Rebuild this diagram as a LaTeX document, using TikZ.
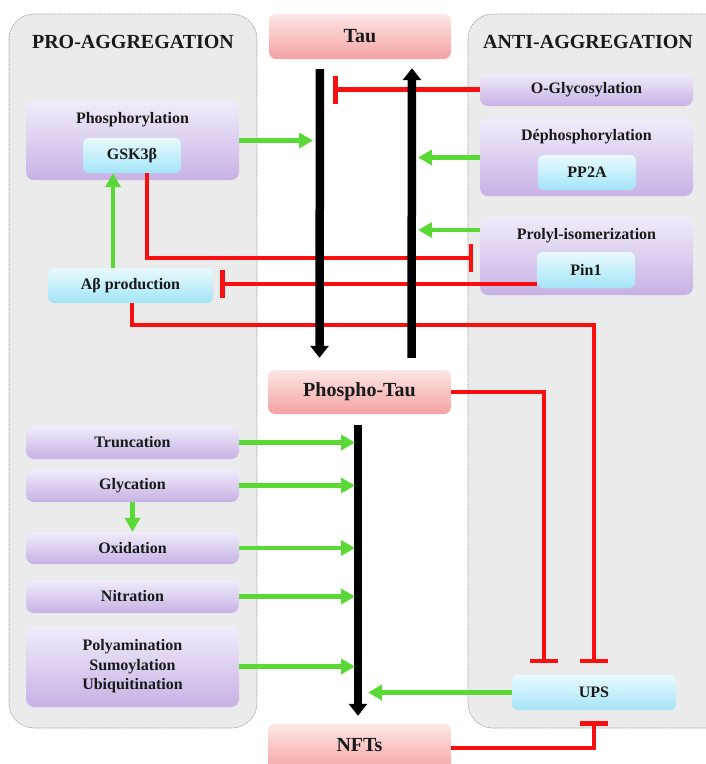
\documentclass[tikz,border=0pt]{standalone}
\usepackage{fontspec}
\setmainfont{Liberation Serif}
\usetikzlibrary{arrows.meta}
\definecolor{panelfill}{HTML}{EBEBEB}
\definecolor{panelline}{HTML}{9A9A9A}
\definecolor{purpTop}{HTML}{F2ECFA}
\definecolor{purpBot}{HTML}{C6B2E5}
\definecolor{cyanTop}{HTML}{E8FAFE}
\definecolor{cyanBot}{HTML}{A4E4F7}
\definecolor{pinkTop}{HTML}{FDE6E6}
\definecolor{pinkBot}{HTML}{F4A2A2}
\definecolor{actgreen}{HTML}{5AD936}
\definecolor{inhred}{HTML}{F81010}
\tikzset{
  panel/.style={fill=panelfill,draw=panelline,line width=0.6pt,dash pattern=on 1.5pt off 1pt,rounded corners=25pt},
  boxtext/.style={font=\fontsize{16}{19.5}\selectfont\bfseries,text=black!90,align=center},
  purplebox/.style={boxtext,top color=purpTop,bottom color=purpBot,draw=none,rounded corners=8pt,inner sep=0pt},
  cyanbox/.style={boxtext,top color=cyanTop,bottom color=cyanBot,draw=none,rounded corners=6pt,inner sep=0pt},
  pinktext/.style={font=\fontsize{20}{22}\selectfont\bfseries,text=black!90},
  pinkbox/.style={pinktext,top color=pinkTop,bottom color=pinkBot,draw=none,rounded corners=7pt,inner sep=0pt},
  paneltitle/.style={font=\fontsize{20}{22}\selectfont\bfseries,text=black!90},
  act/.style={draw=actgreen,line width=4.5pt,-{Triangle[length=14pt,width=15pt]}},
  inhib/.style={draw=inhred,line width=4.2pt,-{Bar[width=28pt,line width=4.5pt]}},
  bigarrow/.style={draw=black,line width=8.5pt,-{Triangle[length=12pt,width=18pt]}},
}
\begin{document}
\begin{tikzpicture}[x=1pt,y=-1pt]
\clip (0,0) rectangle (706,764);
\useasboundingbox (0,0) rectangle (706,764);
\fill[white] (0,0) rectangle (706,764);

% panels
\draw[panel] (9,14) rectangle (257,728);
\draw[panel] (468,14) rectangle (735,728);
\node[paneltitle] (protitle) at (133,42) {PRO-AGGREGATION};
\node[paneltitle] (antititle) at (588,42) {ANTI-AGGREGATION};

% pink state boxes
\node[pinkbox,minimum width=182pt,minimum height=45pt] (tau) at (360,36.5) {Tau};
\node[pinkbox,minimum width=183pt,minimum height=44pt] (phtau) at (359.5,392) {Phospho-Tau};
\node[pinkbox,minimum width=183pt,minimum height=48pt] (nfts) at (359.5,748) {};
\node[pinktext] (nftstext) at (359.5,745) {NFTs};

% anti-aggregation boxes
\node[purplebox,minimum width=213pt,minimum height=33pt] (ogly) at (586.5,89.5) {O-Glycosylation};
\node[purplebox,minimum width=213pt,minimum height=77pt] (deph) at (586.5,157.5) {};
\node[boxtext] (dephtitle) at (586.5,137) {Déphosphorylation};
\node[cyanbox,minimum width=98pt,minimum height=35pt] (pp2a) at (587,172.5) {PP2A};
\node[purplebox,minimum width=213pt,minimum height=79pt] (prol) at (586.5,255.5) {};
\node[boxtext] (proltitle) at (586.5,236) {Prolyl-isomerization};
\node[cyanbox,minimum width=98pt,minimum height=36pt] (pin1) at (586,270) {Pin1};
\node[cyanbox,minimum width=164pt,minimum height=35pt] (ups) at (594,692.5) {UPS};

% pro-aggregation boxes
\node[purplebox,minimum width=213pt,minimum height=79pt] (phos) at (132.5,140.5) {};
\node[boxtext] (phostitle) at (132.5,120) {Phosphorylation};
\node[cyanbox,minimum width=98pt,minimum height=35pt] (gsk) at (132,155.5) {GSK3β};
\node[cyanbox,minimum width=165pt,minimum height=35pt] (abeta) at (130.5,285.5) {Aβ production};
\node[purplebox,minimum width=213pt,minimum height=33pt] (trunc) at (132.5,442.5) {Truncation};
\node[purplebox,minimum width=213pt,minimum height=33pt] (glyc) at (132.5,485.5) {Glycation};
\node[purplebox,minimum width=213pt,minimum height=32pt] (oxid) at (132.5,548) {Oxidation};
\node[purplebox,minimum width=213pt,minimum height=33pt] (nitr) at (132.5,596.5) {Nitration};
\node[purplebox,minimum width=213pt,minimum height=81pt] (poly) at (132.5,666.5) {Polyamination\\Sumoylation\\Ubiquitination};

% target coordinates on the shafts
\coordinate (tOG) at (333,89.5);
\coordinate (tDeph) at (418,157.5);
\coordinate (tProl) at (418,230);
\coordinate (tPhos) at (313,140.5);
\coordinate (tGskProl) at (473,258);
\coordinate (tPinAb) at (220,284);
\coordinate (tAbUps) at (594,663);
\coordinate (tPtUps) at (544,663);
\coordinate (tNftUps) at (594,721);
\coordinate (tUps) at (368,692.5);

% red inhibitions (under the black shafts)
\draw[inhib] (ogly.west) -- (tOG);
\draw[inhib] ([xshift=15pt]gsk.south) |- (tGskProl);
\draw[inhib] ([yshift=-14pt]pin1.west) -- (tPinAb);
\draw[inhib] ([xshift=1.5pt]abeta.south) -- ++(0,22) -| (tAbUps);
\draw[inhib] (phtau.east) -| (tPtUps);
\draw[inhib] (nfts.east |- 0,748) -| (tNftUps);

% black main arrows
\draw[bigarrow, shorten <=10pt, shorten >=0pt] ([xshift=-40pt]tau.south) -- ([xshift=-40pt,yshift=12pt]phtau.north);
\draw[bigarrow, shorten <=12pt, shorten >=9pt] ([xshift=52pt]phtau.north) -- ([xshift=52pt]tau.south);
\draw[bigarrow, shorten <=11pt, shorten >=0pt] ([xshift=-1.5pt]phtau.south) -- ([xshift=-1.5pt,yshift=8pt]nfts.north);

% green activations
\draw[act] (deph.west |- tDeph) -- (tDeph);
\draw[act] (prol.west |- tProl) -- (tProl);
\draw[act] (phos.east) -- (tPhos);
\draw[act] ([xshift=-17.5pt]abeta.north) -- ([xshift=-17.5pt]abeta.north |- gsk.south);
\draw[act] (trunc.east) -- (trunc.east -| 355,0);
\draw[act] (glyc.east) -- (glyc.east -| 355,0);
\draw[act] (oxid.east) -- (oxid.east -| 355,0);
\draw[act] (nitr.east) -- (nitr.east -| 355,0);
\draw[act] (poly.east) -- (poly.east -| 355,0);
\draw[act] (glyc.south) -- (oxid.north);
\draw[act] (ups.west) -- (tUps);
\end{tikzpicture}
\end{document}
